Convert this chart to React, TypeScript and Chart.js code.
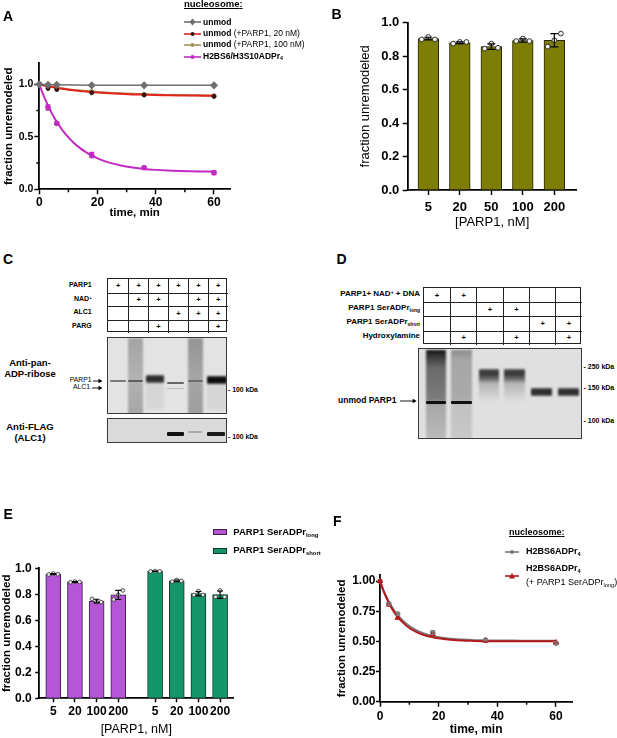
import React, { useEffect, useRef } from "react";
import { Chart, registerables } from "chart.js";
Chart.register(...registerables);

const FONT = "'Liberation Sans', Arial, Helvetica, sans-serif";
Chart.defaults.font.family = FONT;
Chart.defaults.color = "#000";

// ---------------- DATA ----------------
// Panel A
const A_TIMES = [0, 3, 6, 18, 36, 60];
const A_UNMOD = [1.0, 0.995, 0.995, 0.99, 0.99, 0.99];
const A_P20 = [1.0, 0.96, 0.95, 0.92, 0.9, 0.885];
const A_P100 = [1.0, 0.975, 0.965, 0.93, 0.9, 0.89];
const A_ADPR = [1.0, 0.78, 0.628, 0.327, 0.206, 0.158];
const A_ADPR_ERR = [0, 0.025, 0.012, 0.025, 0.01, 0.018];
const A_FIT_T = [0, 1, 2, 3, 4, 5, 6, 8, 10, 12, 14, 16, 18, 20, 24, 28, 32, 36, 40, 44, 48, 52, 56, 60];
const A_FIT_ADPR = [1.0, 0.926, 0.858, 0.797, 0.74, 0.689, 0.643, 0.562, 0.495, 0.439, 0.392, 0.354, 0.322, 0.295, 0.254, 0.227, 0.208, 0.194, 0.185, 0.179, 0.175, 0.172, 0.17, 0.168];
const A_FIT_P20 = [1.0, 0.994, 0.987, 0.982, 0.976, 0.971, 0.966, 0.957, 0.949, 0.943, 0.936, 0.931, 0.926, 0.922, 0.915, 0.909, 0.904, 0.901, 0.898, 0.896, 0.894, 0.893, 0.892, 0.891];
const A_FIT_P100 = [1.0, 0.994, 0.988, 0.983, 0.978, 0.973, 0.969, 0.961, 0.953, 0.946, 0.94, 0.936, 0.931, 0.927, 0.919, 0.914, 0.909, 0.905, 0.902, 0.899, 0.898, 0.896, 0.895, 0.894];

// Panel B
const B_LABELS = ["5", "20", "50", "100", "200"];
const B_MEAN = [0.905, 0.88, 0.857, 0.893, 0.895];
const B_SD = [0.008, 0.005, 0.016, 0.01, 0.04];
const B_REPS = [
  [0.9, 0.915, 0.9],
  [0.875, 0.885, 0.885],
  [0.845, 0.875, 0.85],
  [0.89, 0.905, 0.89],
  [0.857, 0.895, 0.935],
];

// Panel C / D tables
const C_ROW_LABELS = ["PARP1", "NAD+", "ALC1", "PARG"];
const C_PLUS = [
  [1, 1, 1, 1, 1, 1],
  [0, 1, 1, 0, 1, 1],
  [0, 0, 0, 1, 1, 1],
  [0, 0, 1, 0, 0, 1],
];
const D_ROW_LABELS = ["PARP1+ NAD+ + DNA", "PARP1 SerADPr_long", "PARP1 SerADPr_short", "Hydroxylamine"];
const D_PLUS = [
  [1, 1, 0, 0, 0, 0],
  [0, 0, 1, 1, 0, 0],
  [0, 0, 0, 0, 1, 1],
  [0, 1, 0, 1, 0, 1],
];

// Panel E
const E_LABELS = ["5", "20", "100", "200"];
const E_LONG_MEAN = [0.956, 0.895, 0.748, 0.795];
const E_LONG_SD = [0.004, 0.003, 0.014, 0.035];
const E_LONG_REPS = [
  [0.952, 0.96, 0.955],
  [0.893, 0.898, 0.895],
  [0.765, 0.74, 0.74],
  [0.76, 0.795, 0.83],
];
const E_SHORT_MEAN = [0.977, 0.903, 0.805, 0.797];
const E_SHORT_SD = [0.002, 0.007, 0.017, 0.028];
const E_SHORT_REPS = [
  [0.976, 0.978, 0.977],
  [0.897, 0.91, 0.903],
  [0.795, 0.825, 0.795],
  [0.78, 0.83, 0.78],
];

// Panel F
const F_TIMES = [0, 3, 6, 18, 36, 60];
const F_GRAY = [1.0, 0.81, 0.727, 0.572, 0.51, 0.485];
const F_GRAY_ERR = [0, 0.01, 0.012, 0.015, 0.006, 0.01];
const F_RED = [1.0, 0.805, 0.695, 0.56, 0.505, 0.49];
const F_FIT_T = [0, 1, 2, 3, 4, 5, 6, 8, 10, 12, 14, 16, 18, 20, 24, 28, 32, 36, 40, 48, 56, 60];
const F_FIT_GRAY = [1.0, 0.935, 0.879, 0.83, 0.788, 0.751, 0.719, 0.666, 0.627, 0.597, 0.575, 0.558, 0.545, 0.535, 0.522, 0.515, 0.51, 0.508, 0.507, 0.506, 0.505, 0.505];
const F_FIT_RED = [1.0, 0.93, 0.87, 0.819, 0.774, 0.736, 0.703, 0.651, 0.611, 0.583, 0.561, 0.545, 0.534, 0.525, 0.514, 0.507, 0.504, 0.502, 0.501, 0.5, 0.5, 0.5];

// ---------------- helpers ----------------
const GRAY = "#6f6f6f";
const RED = "#e3231c";
const TAN = "#a2955a";
const MAGENTA = "#c22ac2";
const OLIVE = "#7e7d06";
const PURPLE = "#b456d6";
const GREEN = "#12966a";
const DARKRED = "#b3191c";

const zip = (xs: number[], ys: number[]) => xs.map((x, i) => ({ x, y: ys[i] }));
const JIT = [-0.21, 0, 0.21];

const errorBarsPlugin = {
  id: "errbars",
  afterDatasetsDraw(chart: any) {
    const ctx = chart.ctx;
    chart.data.datasets.forEach((ds: any, di: number) => {
      const errs = ds.errorBars;
      if (!errs) return;
      const meta = chart.getDatasetMeta(di);
      const ys = chart.scales[meta.yAxisID];
      ctx.save();
      ctx.strokeStyle = ds.errorColor || "#000";
      ctx.lineWidth = ds.errorWidth || 1;
      meta.data.forEach((el: any, i: number) => {
        const e = errs[i];
        if (!e) return;
        const raw = ds.data[i];
        const v = typeof raw === "object" ? raw.y : raw;
        const x = el.x;
        const y1 = ys.getPixelForValue(v - e);
        const y2 = ys.getPixelForValue(v + e);
        const c = ds.capWidth ?? 3;
        ctx.beginPath();
        ctx.moveTo(x, y1);
        ctx.lineTo(x, y2);
        ctx.moveTo(x - c, y1);
        ctx.lineTo(x + c, y1);
        ctx.moveTo(x - c, y2);
        ctx.lineTo(x + c, y2);
        ctx.stroke();
      });
      ctx.restore();
    });
  },
};

// short (minor) tick marks drawn at given values through the chart's scales
const minorTicksPlugin = {
  id: "minorTicks",
  afterDraw(chart: any, _args: any, opts: any) {
    if (!opts || (!opts.x && !opts.y)) return;
    const ctx = chart.ctx;
    const len = opts.len ?? 3;
    ctx.save();
    ctx.strokeStyle = "#000";
    ctx.lineWidth = 1.5;
    const xs = chart.scales.x;
    const ys = chart.scales.y;
    ctx.beginPath();
    (opts.x || []).forEach((v: number) => {
      const px = xs.getPixelForValue(v);
      ctx.moveTo(px, xs.top);
      ctx.lineTo(px, xs.top + len);
    });
    (opts.y || []).forEach((v: number) => {
      const py = ys.getPixelForValue(v);
      ctx.moveTo(ys.right, py);
      ctx.lineTo(ys.right - len, py);
    });
    ctx.stroke();
    ctx.restore();
  },
};

const gridOpts = (tl: number, hide?: (v: number) => boolean) => ({
  display: true,
  drawOnChartArea: false,
  drawTicks: true,
  tickLength: tl,
  tickWidth: 1.5,
  tickColor: hide ? (c: any) => (c.tick && hide(c.tick.value) ? "rgba(0,0,0,0)" : "#000") : "#000",
});
const borderOpts = { display: true, color: "#000", width: 1.8 };

function ChartBox({ x, y, w, h, make }: any) {
  const ref = useRef<HTMLCanvasElement>(null);
  useEffect(() => {
    const c = new Chart(ref.current as HTMLCanvasElement, make());
    return () => c.destroy();
  }, []);
  return (
    <canvas
      ref={ref}
      width={w}
      height={h}
      style={{ position: "absolute", left: x, top: y, width: w, height: h }}
    />
  );
}

const baseOptions = (padding: any, scales: any, minor?: any) => ({
  responsive: false,
  maintainAspectRatio: false,
  animation: false,
  layout: { padding },
  plugins: { legend: { display: false }, tooltip: { enabled: false }, minorTicks: minor || {} },
  scales,
});

// ---------------- chart configs ----------------
function makeA() {
  return {
    type: "scatter",
    data: {
      datasets: [
        { data: zip(A_TIMES, A_UNMOD), showLine: true, borderColor: GRAY, borderWidth: 1.5, pointStyle: "rectRot", pointRadius: 3, backgroundColor: GRAY, pointBorderColor: GRAY, clip: false, order: 1 },
        { data: zip(A_FIT_T, A_FIT_P100), showLine: true, borderColor: TAN, borderWidth: 2, pointRadius: 0, cubicInterpolationMode: "monotone", clip: false, order: 6 },
        { data: zip(A_TIMES, A_P100), showLine: false, pointRadius: 2.2, backgroundColor: TAN, borderColor: TAN, clip: false, order: 5 },
        { data: zip(A_FIT_T, A_FIT_P20), showLine: true, borderColor: RED, borderWidth: 2, pointRadius: 0, cubicInterpolationMode: "monotone", clip: false, order: 4 },
        { data: zip(A_TIMES, A_P20), showLine: false, pointRadius: 2, backgroundColor: "#3a1010", borderColor: "#3a1010", clip: false, order: 3 },
        { data: zip(A_FIT_T, A_FIT_ADPR), showLine: true, borderColor: MAGENTA, borderWidth: 2, pointRadius: 0, cubicInterpolationMode: "monotone", clip: false, order: 2 },
        { data: zip(A_TIMES, A_ADPR), showLine: false, pointRadius: 2.4, backgroundColor: MAGENTA, borderColor: MAGENTA, errorBars: A_ADPR_ERR, errorColor: MAGENTA, errorWidth: 1.3, capWidth: 2.5, clip: false, order: 2 },
      ],
    },
    options: baseOptions({ left: 0, top: 63.3, right: 10, bottom: 0 }, {
      x: {
        type: "linear", min: 0, max: 65.5,
        border: borderOpts, grid: gridOpts(5, (v) => v % 20 !== 0),
        ticks: { stepSize: 10, includeBounds: false, autoSkip: false, maxRotation: 0, padding: 1.5, font: { size: 12, weight: "bold" }, color: "#000", callback: (v: number) => (v % 20 === 0 ? String(v) : "") },
        title: { display: true, text: "time, min", color: "#000", font: { size: 11.5, weight: "bold" }, padding: { top: 0, bottom: 5 } },
        afterFit: (s: any) => { s.height = 35.7; },
      },
      y: {
        type: "linear", min: 0, max: 1.2,
        border: borderOpts, grid: gridOpts(5, (v) => !(v === 0 || v === 0.5 || v === 1)),
        ticks: { stepSize: 0.25, includeBounds: false, autoSkip: false, padding: 1, font: { size: 10.5, weight: "bold" }, color: "#000", callback: (v: number) => (v === 0 || v === 0.5 || v === 1 ? v.toFixed(1) : "") },
        title: { display: true, text: "fraction unremodeled", color: "#000", font: { size: 11.5, weight: "bold" }, padding: { top: 1.6, bottom: 0 } },
        afterFit: (s: any) => { s.width = 39.3; },
      },
    }, { x: [10, 30, 50], y: [0.25, 0.75], len: 3 }),
    plugins: [errorBarsPlugin, minorTicksPlugin],
  };
}

function makeB() {
  const pos = B_LABELS.map((_, i) => i);
  const reps: any[] = [];
  B_REPS.forEach((r, i) => r.forEach((v, j) => reps.push({ x: pos[i] + JIT[j], y: v })));
  return {
    type: "bar",
    data: {
      datasets: [
        { type: "bar", data: pos.map((p, i) => ({ x: p, y: B_MEAN[i] })), backgroundColor: OLIVE, borderColor: "#2a2a00", borderWidth: 1, barThickness: 20.7, grouped: false, order: 3, errorBars: B_SD, errorColor: "#000", errorWidth: 1.2, capWidth: 4 },
        { type: "scatter", data: reps, pointRadius: 2.4, backgroundColor: "#f0f0f0", borderColor: "#222", borderWidth: 0.9, order: 1 },
      ],
    },
    options: baseOptions({ left: 0, top: 22.7, right: 13.3, bottom: 0 }, {
      x: {
        type: "linear", min: -0.654, max: 4.71, offset: false,
        border: borderOpts, grid: { ...gridOpts(5), offset: false },
        afterBuildTicks: (s: any) => { s.ticks = pos.map((v) => ({ value: v })); },
        ticks: { autoSkip: false, maxRotation: 0, padding: 5, font: { size: 13, weight: "bold" }, color: "#000", callback: (_v: any, i: number) => B_LABELS[i] },
        title: { display: true, text: "[PARP1, nM]", color: "#000", font: { size: 13, weight: "normal" }, padding: { top: 0, bottom: 1.5 } },
        afterFit: (s: any) => { s.height = 42; },
      },
      y: {
        type: "linear", min: 0, max: 1.0,
        border: borderOpts, grid: gridOpts(5),
        ticks: { stepSize: 0.2, autoSkip: false, padding: 3.4, font: { size: 13, weight: "bold" }, color: "#000", callback: (v: number) => v.toFixed(1) },
        title: { display: true, text: "fraction unremodeled", color: "#000", font: { size: 13, weight: "normal" }, padding: { top: 17.2, bottom: 0 } },
        afterFit: (s: any) => { s.width = 67.7; },
      },
    }),
    plugins: [errorBarsPlugin],
  };
}

function makeE() {
  const GAP = 4.7;
  const pL = E_LABELS.map((_, i) => i);
  const pS = E_LABELS.map((_, i) => GAP + i);
  const allPos = [...pL, ...pS];
  const allLabels = [...E_LABELS, ...E_LABELS];
  const repsL: any[] = [];
  E_LONG_REPS.forEach((r, i) => r.forEach((v, j) => repsL.push({ x: pL[i] + JIT[j], y: v })));
  const repsS: any[] = [];
  E_SHORT_REPS.forEach((r, i) => r.forEach((v, j) => repsS.push({ x: pS[i] + JIT[j], y: v })));
  return {
    type: "bar",
    data: {
      datasets: [
        { type: "bar", data: pL.map((p, i) => ({ x: p, y: E_LONG_MEAN[i] })), backgroundColor: PURPLE, borderColor: "#3d1a4a", borderWidth: 1, barThickness: 15, grouped: false, order: 4, errorBars: E_LONG_SD, errorWidth: 1.1, capWidth: 3 },
        { type: "bar", data: pS.map((p, i) => ({ x: p, y: E_SHORT_MEAN[i] })), backgroundColor: GREEN, borderColor: "#0a3a28", borderWidth: 1, barThickness: 15, grouped: false, order: 3, errorBars: E_SHORT_SD, errorWidth: 1.1, capWidth: 3 },
        { type: "scatter", data: repsL, pointRadius: 1.9, backgroundColor: "#e8e8e8", borderColor: "#333", borderWidth: 0.8, order: 1 },
        { type: "scatter", data: repsS, pointRadius: 1.9, backgroundColor: "#e8e8e8", borderColor: "#333", borderWidth: 0.8, order: 1 },
      ],
    },
    options: baseOptions({ left: 0, top: 48.3, right: 11.7, bottom: 0 }, {
      x: {
        type: "linear", min: -0.646, max: 8.31, offset: false,
        border: borderOpts, grid: { ...gridOpts(4), offset: false },
        afterBuildTicks: (s: any) => { s.ticks = allPos.map((v) => ({ value: v })); },
        ticks: { autoSkip: false, maxRotation: 0, padding: 2.4, font: { size: 12, weight: "bold" }, color: "#000", callback: (_v: any, i: number) => allLabels[i] },
        title: { display: true, text: "[PARP1, nM]", color: "#000", font: { size: 12.5, weight: "normal" }, padding: { top: 0, bottom: 0.5 } },
        afterFit: (s: any) => { s.height = 39.7; },
      },
      y: {
        type: "linear", min: 0, max: 1.0,
        border: borderOpts, grid: gridOpts(4),
        ticks: { stepSize: 0.2, autoSkip: false, padding: 3.6, font: { size: 12, weight: "bold" }, color: "#000", callback: (v: number) => v.toFixed(1) },
        title: { display: true, text: "fraction unremodeled", color: "#000", font: { size: 11.5, weight: "bold" }, padding: { top: 0.4, bottom: 0 } },
        afterFit: (s: any) => { s.width = 39.3; },
      },
    }),
    plugins: [errorBarsPlugin],
  };
}

function makeF() {
  return {
    type: "scatter",
    data: {
      datasets: [
        { data: zip(F_FIT_T, F_FIT_GRAY), showLine: true, borderColor: "#7a7a7a", borderWidth: 2, pointRadius: 0, cubicInterpolationMode: "monotone", clip: false, order: 4 },
        { data: zip(F_TIMES, F_GRAY), showLine: false, pointRadius: 2.4, backgroundColor: "#808080", borderColor: "#808080", errorBars: F_GRAY_ERR, errorColor: "#808080", errorWidth: 1.2, capWidth: 2.5, clip: false, order: 3 },
        { data: zip(F_FIT_T, F_FIT_RED), showLine: true, borderColor: DARKRED, borderWidth: 2, pointRadius: 0, cubicInterpolationMode: "monotone", clip: false, order: 2 },
        { data: zip(F_TIMES, F_RED), showLine: false, pointStyle: "triangle", pointRadius: 3, backgroundColor: DARKRED, borderColor: DARKRED, clip: false, order: 1 },
      ],
    },
    options: baseOptions({ left: 0, top: 55, right: 7.6, bottom: 0 }, {
      x: {
        type: "linear", min: 0, max: 65.6,
        border: borderOpts, grid: gridOpts(5, (v) => v % 20 !== 0),
        ticks: { stepSize: 10, includeBounds: false, autoSkip: false, maxRotation: 0, padding: 2.3, font: { size: 12, weight: "bold" }, color: "#000", callback: (v: number) => (v % 20 === 0 ? String(v) : "") },
        title: { display: true, text: "time, min", color: "#000", font: { size: 12, weight: "bold" }, padding: { top: 0, bottom: 0.8 } },
        afterFit: (s: any) => { s.height = 36.3; },
      },
      y: {
        type: "linear", min: 0, max: 1.05,
        border: borderOpts, grid: gridOpts(4),
        ticks: { stepSize: 0.25, includeBounds: false, autoSkip: false, padding: 0.5, font: { size: 12, weight: "bold" }, color: "#000", callback: (v: number) => v.toFixed(2) },
        title: { display: true, text: "fraction unremodeled", color: "#000", font: { size: 11.5, weight: "bold" }, padding: { top: 4.8, bottom: 0 } },
        afterFit: (s: any) => { s.width = 50; },
      },
    }, { x: [10, 30, 50], len: 3 }),
    plugins: [errorBarsPlugin, minorTicksPlugin],
  };
}

// ---------------- HTML pieces ----------------
const SUB: React.CSSProperties = { fontSize: "0.62em", position: "relative", top: "0.3em", verticalAlign: "baseline" };
const SUP: React.CSSProperties = { fontSize: "0.62em", position: "relative", top: "-0.4em", verticalAlign: "baseline" };

function rich(s: string) {
  const parts: any[] = [];
  const subIdx = s.indexOf("_");
  let main = s;
  let sub = "";
  if (subIdx >= 0) {
    main = s.slice(0, subIdx);
    sub = s.slice(subIdx + 1);
  }
  const segs = main.split("NAD+");
  segs.forEach((seg, i) => {
    parts.push(<span key={"s" + i}>{seg}</span>);
    if (i < segs.length - 1) parts.push(<span key={"n" + i}>NAD<span style={SUP}>+</span></span>);
  });
  if (sub) parts.push(<span key="sub" style={SUB}>{sub}</span>);
  return parts;
}

function T({ x, y, s = 9, b = false, a = "left", children, style }: any) {
  const st: any = {
    position: "absolute",
    top: y - s * 0.55,
    fontSize: s,
    lineHeight: `${s}px`,
    fontWeight: b ? 700 : 400,
    whiteSpace: "nowrap",
    fontFamily: FONT,
    color: "#000",
  };
  if (a === "left") st.left = x;
  else if (a === "right") { st.left = x - 300; st.width = 300; st.textAlign = "right"; }
  else { st.left = x - 150; st.width = 300; st.textAlign = "center"; }
  return <div style={{ ...st, ...style }}>{children}</div>;
}

function PlusTable({ x, y, w, h, cells }: any) {
  const rows = cells.length;
  const cols = cells[0].length;
  const cw = w / cols;
  const rh = h / rows;
  const out: any[] = [];
  for (let r = 0; r < rows; r++) {
    for (let c = 0; c < cols; c++) {
      out.push(
        <div key={r + "-" + c} style={{
          position: "absolute", left: c * cw, top: r * rh, width: cw, height: rh,
          borderLeft: c > 0 ? "1px solid #222" : "none", borderTop: r > 0 ? "1px solid #222" : "none",
          boxSizing: "border-box", display: "flex", alignItems: "center", justifyContent: "center",
          fontFamily: FONT, fontWeight: 700, fontSize: 7.5, lineHeight: "7.5px",
        }}>{cells[r][c] ? "+" : ""}</div>
      );
    }
  }
  return <div style={{ position: "absolute", left: x, top: y, width: w, height: h, border: "1.2px solid #222", boxSizing: "border-box" }}>{out}</div>;
}

function Gel({ x, y, w, h, bg, blobs }: any) {
  return (
    <div style={{ position: "absolute", left: x, top: y, width: w, height: h, background: bg, border: "1.5px solid #3a3a3a", boxSizing: "border-box", overflow: "hidden" }}>
      {blobs.map((b: any, i: number) => (
        <div key={i} style={{ position: "absolute", left: b.l, top: b.t, width: b.w, height: b.h, background: b.c, filter: `blur(${b.b ?? 0.6}px)`, borderRadius: 1 }} />
      ))}
    </div>
  );
}

function Arrow({ x1, x2, y, lw = 1 }: any) {
  return (
    <svg style={{ position: "absolute", left: x1, top: y - 3, overflow: "visible" }} width={x2 - x1} height={6}>
      <line x1={0} y1={3} x2={x2 - x1 - 3} y2={3} stroke="#000" strokeWidth={lw} />
      <polygon points={`${x2 - x1 - 4},0.8 ${x2 - x1},3 ${x2 - x1 - 4},5.2`} fill="#000" />
    </svg>
  );
}

function LegendMark({ x, y, w, color, shape, mcolor }: any) {
  const cx = w / 2;
  let m: any = null;
  if (shape === "diamond") m = <polygon points={`${cx},0.5 ${cx + 3},4 ${cx},7.5 ${cx - 3},4`} fill={mcolor || color} />;
  else if (shape === "triangle") m = <polygon points={`${cx},0.8 ${cx + 3},6.5 ${cx - 3},6.5`} fill={mcolor || color} />;
  else m = <circle cx={cx} cy={4} r={2} fill={mcolor || color} />;
  return (
    <svg style={{ position: "absolute", left: x, top: y - 4 }} width={w} height={8}>
      <line x1={0} y1={4} x2={w} y2={4} stroke={color} strokeWidth={1.6} />
      {m}
    </svg>
  );
}

export default function App() {
  const cRow = (r: number) => 278.3 + 13.5 * (r + 0.5);
  const dRow = (r: number) => 287.3 + 14.1 * (r + 0.5);
  return (
    <div style={{ position: "absolute", left: 0, top: 0, width: 617, height: 738, background: "#fff", overflow: "hidden", fontFamily: FONT }}>
      <ChartBox x={0} y={0} w={240} h={225} make={makeA} />
      <ChartBox x={340} y={0} w={250} h={232} make={makeB} />
      <ChartBox x={0} y={520} w={245} h={218} make={makeE} />
      <ChartBox x={330} y={520} w={250} h={218} make={makeF} />

      {/* Panel letters */}
      <T x={3} y={17} s={14} b>A</T>
      <T x={331.5} y={14.5} s={14} b>B</T>
      <T x={3} y={260} s={14} b>C</T>
      <T x={336.5} y={260} s={14} b>D</T>
      <T x={3.5} y={515} s={14} b>E</T>
      <T x={333} y={521.5} s={14} b>F</T>

      {/* Legend A */}
      <T x={184} y={4.5} s={9.5} b style={{ textDecoration: "underline" }}>nucleosome<span style={{ textDecoration: "none" }}>:</span></T>
      <LegendMark x={184} y={22.3} w={17} color={GRAY} shape="diamond" />
      <T x={203} y={22.3} s={8.5} b>unmod</T>
      <LegendMark x={184} y={33.6} w={17} color={RED} mcolor="#3a1010" />
      <T x={203} y={33.6} s={8.5}><b>unmod</b> (+PARP1, 20 nM)</T>
      <LegendMark x={184} y={45} w={17} color={TAN} />
      <T x={203} y={45} s={8.5}><b>unmod</b> (+PARP1, 100 nM)</T>
      <LegendMark x={184} y={56.5} w={17} color={MAGENTA} />
      <T x={203} y={56.5} s={8.5} b>H2BS6/H3S10ADPr<span style={SUB}>4</span></T>

      {/* Panel C */}
      {C_ROW_LABELS.map((l, r) => (
        <T key={l} x={91.7} y={cRow(r)} s={7} b a="right">{rich(l)}</T>
      ))}
      <PlusTable x={107.3} y={278.3} w={119.4} h={54} cells={C_PLUS} />
      <T x={30} y={363.3} s={9.5} b a="center">Anti-pan-</T>
      <T x={30} y={373.8} s={9.5} b a="center">ADP-ribose</T>
      <T x={30} y={427.7} s={9.5} b a="center">Anti-FLAG</T>
      <T x={30} y={438.5} s={9.5} b a="center">(ALC1)</T>
      <T x={91.5} y={380.7} s={6.8} a="right">PARP1</T>
      <Arrow x1={93} x2={102.5} y={380.7} lw={0.9} />
      <T x={90} y={387.7} s={6.8} a="right">ALC1</T>
      <Arrow x1={92} x2={102.5} y={387.7} lw={0.9} />
      <Gel x={107.3} y={336.7} w={119.4} h={77.6} bg="#e3e3e3" blobs={[
        { l: 19.7, t: 0, w: 15, h: 78, c: "linear-gradient(#a4a4a4,#b2b2b2 50%,#a6a6a6)", b: 1 },
        { l: 79.7, t: 0, w: 15, h: 78, c: "linear-gradient(#949494,#a6a6a6 50%,#9e9e9e)", b: 1 },
        { l: 2, t: 42.5, w: 16, h: 2, c: "#7a7a7a" },
        { l: 20, t: 42.5, w: 14.5, h: 2, c: "#5e5e5e" },
        { l: 38, t: 45, w: 18, h: 26, c: "rgba(0,0,0,0.06)", b: 1.5 },
        { l: 38, t: 37, w: 18, h: 8, c: "linear-gradient(#555,#1e1e1e 50%,#555)", b: 0.8 },
        { l: 59, t: 44, w: 17, h: 2, c: "#666" },
        { l: 59, t: 50, w: 17, h: 1.5, c: "#bdbdbd" },
        { l: 80, t: 42.5, w: 14.5, h: 2, c: "#6e6e6e" },
        { l: 99, t: 46, w: 19.5, h: 26, c: "rgba(0,0,0,0.06)", b: 1.5 },
        { l: 99, t: 38.5, w: 19.5, h: 8, c: "linear-gradient(#333,#000 50%,#333)", b: 0.8 },
      ]} />
      <T x={228} y={390.7} s={6.8} b>- 100 kDa</T>
      <Gel x={107.3} y={418.3} w={119.4} h={25} bg="#dadada" blobs={[
        { l: 59, t: 13, w: 17, h: 3.5, c: "#111" },
        { l: 80, t: 11.5, w: 14, h: 2.5, c: "#a8a8a8" },
        { l: 99, t: 13, w: 18, h: 3.5, c: "#1c1c1c" },
      ]} />
      <T x={228} y={437.7} s={6.8} b>- 100 kDa</T>

      {/* Panel D */}
      {D_ROW_LABELS.map((l, r) => (
        <T key={l} x={420} y={dRow(r)} s={8} b a="right">{rich(l)}</T>
      ))}
      <PlusTable x={422.7} y={287.3} w={158} h={56.4} cells={D_PLUS} />
      <Gel x={418.3} y={348.3} w={163.4} h={90.7} bg="#e0e0e0" blobs={[
        { l: 6.7, t: 1, w: 20, h: 89, c: "linear-gradient(#111 0%, #333 6%, #6a6a6a 20%, #7c7c7c 55%, #a8a8a8 62%, #bababa 100%)", b: 0.8 },
        { l: 6.7, t: 51.5, w: 20, h: 3, c: "#0e0e0e" },
        { l: 31.7, t: 1, w: 21, h: 89, c: "linear-gradient(#8a8a8a 0%, #a6a6a6 10%, #aaaaaa 55%, #c2c2c2 62%, #c8c8c8 100%)", b: 0.8 },
        { l: 31.7, t: 51.5, w: 21, h: 3, c: "#111" },
        { l: 59.4, t: 31, w: 20, h: 22, c: "linear-gradient(rgba(110,110,110,0.45), rgba(200,200,200,0))", b: 1 },
        { l: 59.4, t: 19.5, w: 20, h: 13, c: "linear-gradient(#5a5a5a, #333 35%, #6a6a6a 75%, #999)", b: 1 },
        { l: 84.7, t: 31, w: 21, h: 22, c: "linear-gradient(rgba(110,110,110,0.45), rgba(200,200,200,0))", b: 1 },
        { l: 84.7, t: 19.5, w: 21, h: 13, c: "linear-gradient(#5a5a5a, #333 35%, #6a6a6a 75%, #999)", b: 1 },
        { l: 111.7, t: 39, w: 21, h: 8, c: "linear-gradient(#555,#222 50%,#555)", b: 0.8 },
        { l: 138.4, t: 39, w: 21, h: 8, c: "linear-gradient(#555,#222 50%,#555)", b: 0.8 },
      ]} />
      <T x={338} y={401} s={8.5} b>unmod PARP1</T>
      <Arrow x1={400} x2={416.7} y={401} lw={0.9} />
      <T x={583.5} y={367.3} s={7} b>- 250 kDa</T>
      <T x={583.5} y={388} s={7} b>- 150 kDa</T>
      <T x={583.5} y={421} s={7} b>- 100 kDa</T>

      {/* Legend E */}
      <div style={{ position: "absolute", left: 213.3, top: 529.3, width: 13.3, height: 6, background: PURPLE, border: "1px solid #3d1a4a", boxSizing: "border-box" }} />
      <T x={233.3} y={532.3} s={9.5} b>PARP1 SerADPr<span style={SUB}>long</span></T>
      <div style={{ position: "absolute", left: 213.3, top: 547.7, width: 13.3, height: 6, background: GREEN, border: "1px solid #0a3a28", boxSizing: "border-box" }} />
      <T x={233.3} y={550.7} s={9.5} b>PARP1 SerADPr<span style={SUB}>short</span></T>

      {/* Legend F */}
      <T x={509} y={532.5} s={9} b style={{ textDecoration: "underline" }}>nucleosome<span style={{ textDecoration: "none" }}>:</span></T>
      <LegendMark x={505} y={552.3} w={14} color="#7a7a7a" />
      <T x={526} y={552.3} s={9} b>H2BS6ADPr<span style={SUB}>4</span></T>
      <LegendMark x={505} y={576} w={14} color={DARKRED} shape="triangle" />
      <T x={526} y={569} s={9} b>H2BS6ADPr<span style={SUB}>4</span></T>
      <T x={526} y={583.3} s={9}>(+ PARP1 SerADPr<span style={SUB}>long</span>)</T>
    </div>
  );
}
